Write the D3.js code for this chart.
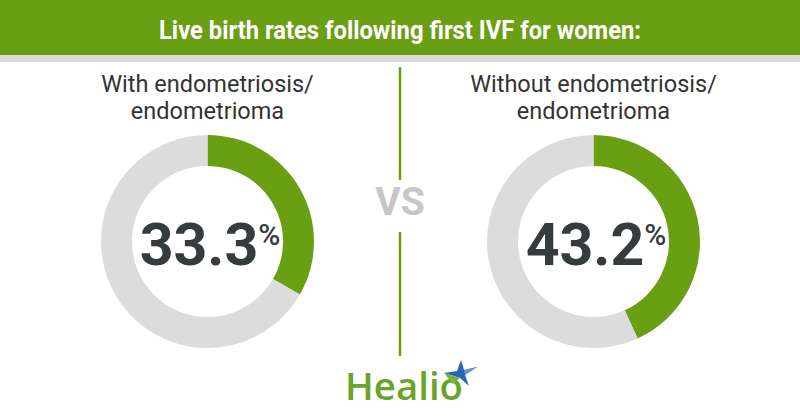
<!DOCTYPE html>
<html>
<head>
<meta charset="utf-8">
<script src="https://cdn.jsdelivr.net/npm/d3@7"></script>
<style>
  html, body { margin: 0; padding: 0; background: #fff; }
  svg { display: block; }
</style>
</head>
<body>
<svg id="chart" width="800" height="420"></svg>
<script>
const title = "Live birth rates following first IVF for women:";
const groupLabels = [
  ["With endometriosis/", "endometrioma"],
  ["Without endometriosis/", "endometrioma"]
];
const rates = [33.3, 43.2];
const vsLabel = "VS";
const brand = "Healio";

const W = 800, H = 420;
const green = "#6a9e13";
const ringGray = "#dcdcdc";
const dark = "#363b3e";

const svg = d3.select("#chart");

// header
svg.append("rect").attr("x", 0).attr("y", 0).attr("width", W).attr("height", 55).attr("fill", green);
svg.append("rect").attr("x", 0).attr("y", 55).attr("width", W).attr("height", 7).attr("fill", "#dadada");
svg.append("text")
  .attr("x", W / 2).attr("y", 39)
  .attr("text-anchor", "middle")
  .attr("font-family", "Roboto, sans-serif")
  .attr("font-weight", 700)
  .attr("font-size", 25)
  .attr("fill", "#fff")
  .attr("textLength", 482)
  .attr("lengthAdjust", "spacingAndGlyphs")
  .text(title);

// columns
const x = d3.scalePoint().domain(d3.range(rates.length)).range([207.5, 593.5]);
const cy = 241.5;
const outerR = 106.5, innerR = 75.5;
const pie = d3.pie().sort(null).value(d => d);
const arc = d3.arc().innerRadius(innerR).outerRadius(outerR);

rates.forEach((v, i) => {
  const cx = x(i);
  const g = svg.append("g");
  g.append("text")
    .attr("text-anchor", "middle")
    .attr("font-family", "Roboto, sans-serif")
    .attr("font-size", 23.5)
    .attr("fill", "#333")
    .selectAll("tspan")
    .data(groupLabels[i])
    .join("tspan")
    .attr("x", cx)
    .attr("y", (d, j) => 92 + j * 26.5)
    .text(d => d);

  const dg = g.append("g").attr("transform", `translate(${cx},${cy})`);
  dg.selectAll("path")
    .data(pie([v, 100 - v]))
    .join("path")
    .attr("d", arc)
    .attr("fill", (d, j) => j === 0 ? green : ringGray);

  const t = dg.append("text")
    .attr("x", -62).attr("y", 23.5)
    .attr("font-family", "Roboto, sans-serif")
    .attr("fill", dark);
  t.append("tspan")
    .attr("font-size", 59)
    .attr("font-weight", 700)
    .text(v.toFixed(1));
  t.append("tspan")
    .attr("font-size", 30)
    .attr("font-weight", 500)
    .attr("dy", -20.5)
    .attr("dx", 0)
    .text("%");
  const bb = t.node().getBBox();
  t.attr("x", -62 + (-(bb.x + bb.width / 2) + 2.5));
});

// divider + VS
svg.append("line").attr("x1", 400).attr("x2", 400).attr("y1", 67).attr("y2", 180)
  .attr("stroke", green).attr("stroke-width", 2.5);
svg.append("line").attr("x1", 400).attr("x2", 400).attr("y1", 232).attr("y2", 356)
  .attr("stroke", green).attr("stroke-width", 2.5);
svg.append("text")
  .attr("x", 400).attr("y", 215)
  .attr("text-anchor", "middle")
  .attr("font-family", "Roboto, sans-serif")
  .attr("font-weight", 700)
  .attr("font-size", 39)
  .attr("fill", "#c6c6c6")
  .text(vsLabel);

// Healio logo
svg.append("text")
  .attr("x", 345).attr("y", 400)
  .attr("font-family", "'Open Sans', sans-serif")
  .attr("font-weight", 600)
  .attr("font-size", 38)
  .attr("fill", "#6aa32a")
  .attr("textLength", 118)
  .attr("lengthAdjust", "spacingAndGlyphs")
  .text(brand);
const star = svg.append("g").attr("transform", "translate(460,373)");
star.append("path")
  .attr("d", "M1,-13 L4,-3 L17,-6 L5,2 L9,13 L0,5 L-16,0 L-3,-2 Z")
  .attr("fill", "#2468b4");
star.append("path")
  .attr("d", "M0,5 L-16,0 L-7,11 Z")
  .attr("fill", "#7bb23a");
star.append("path")
  .attr("d", "M4,-3 L17,-6 L5,2 Z")
  .attr("fill", "#5a9ad6");
</script>
</body>
</html>
